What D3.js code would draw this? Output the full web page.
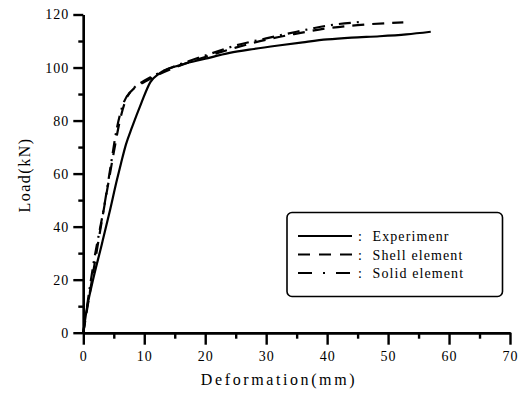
<html>
<head>
    <style>
        body { margin: 0; background: #ffffff; }
        svg { display: block; }
        text { font-family: "Liberation Serif", "DejaVu Serif", serif; fill: #000; }
        .eje path, .eje line { stroke: #000; stroke-width: 2.4px; }
        .eje text { font-size: 14px; letter-spacing: 1px; fill: #000; }
    </style>
    <script src="https://cdn.jsdelivr.net/npm/d3@7"></script>
</head>
<body>
<svg id="Grafico"></svg>
<script>
    // Datos: deformacion (mm) y carga (kN)
    let experimentoX = [0, 0.5, 1.5, 3, 4.4, 5.5, 6.2, 7, 8, 9.5, 11, 12.5, 16, 20, 24, 28, 32, 36, 40, 44, 48.6, 53, 57];
    let experimentoY = [0, 8, 19, 33, 46.4, 57.5, 64, 71, 77.5, 86.5, 94.5, 97.8, 101, 103.3, 105.5, 107, 108.3, 109.5, 110.6, 111.3, 111.8, 112.5, 113.5];

    let laminaX = [0, 2, 4, 5, 6, 7, 8.5, 10, 12, 15, 20, 25, 30, 35, 40, 45, 52.5];
    let laminaY = [0, 28, 55, 68, 80, 88, 92.5, 94.5, 97, 100, 104, 107.5, 110.5, 112.8, 114.8, 116, 117];

    let solidoX = [0, 1.6, 3.6, 4.5, 5.5, 6.5, 8, 10, 12, 15, 20, 25, 30, 35, 40, 46];
    let solidoY = [0, 25, 50, 63, 77, 86, 91.5, 95, 97.5, 100.5, 104.5, 108.3, 111, 113.5, 115.8, 117.3];

    let series = ["Experimenr", "Shell element", "Solid element"];
    let ticksX = [0, 10, 20, 30, 40, 50, 60, 70];
    let ticksY = [0, 20, 40, 60, 80, 100, 120];

    let trazos = ["none", "12,8", "12,6,2,6"];
    let trazosLeyenda = ["none", "12,9", "14,11,2,11"];

    function configuracion () {
        let ancho = 522, alto = 396;
        let margenes = { top: 14.5, bottom: 63.3, left: 83.3, right: 12 };
        let contenedor = d3.select("#Grafico").attr("width", ancho).attr("height", alto);
        return { ancho, alto, margenes, contenedor };
    }

    function escalas (conf) {
        let { ancho, alto, margenes } = conf;
        let escalaX = d3.scaleLinear().domain([0, 70]).range([margenes.left, ancho - margenes.right]);
        let escalaY = d3.scaleLinear().domain([0, 120]).range([alto - margenes.bottom, margenes.top]);
        return { escalaX, escalaY };
    }

    function dibujarEjes (conf, esc) {
        let { contenedor, alto, margenes } = conf;
        let { escalaX, escalaY } = esc;
        let y0 = alto - margenes.bottom;

        // marcas secundarias
        contenedor.append("g").attr("class", "eje")
            .attr("transform", `translate(0,${y0})`)
            .call(d3.axisBottom(escalaX).tickValues(d3.range(5, 70, 10)).tickSize(6).tickFormat("").tickSizeOuter(0));
        contenedor.append("g").attr("class", "eje")
            .attr("transform", `translate(${margenes.left},0)`)
            .call(d3.axisLeft(escalaY).tickValues(d3.range(10, 120, 20)).tickSize(5).tickFormat("").tickSizeOuter(0));

        let ejeX = contenedor.append("g").attr("class", "eje")
            .attr("transform", `translate(0,${y0})`)
            .call(d3.axisBottom(escalaX).tickValues(ticksX).tickSize(12).tickPadding(6).tickSizeOuter(0));
        ejeX.selectAll("text").attr("font-family", null).attr("font-size", null);

        let ejeY = contenedor.append("g").attr("class", "eje")
            .attr("transform", `translate(${margenes.left},0)`)
            .call(d3.axisLeft(escalaY).tickValues(ticksY).tickSize(10).tickPadding(4).tickSizeOuter(0));
        ejeY.selectAll("text").attr("font-family", null).attr("font-size", null);

        contenedor.append("text")
            .attr("x", 279).attr("y", 385)
            .attr("text-anchor", "middle")
            .style("font-size", "16px").style("letter-spacing", "2.6px")
            .text("Deformation(mm)");

        contenedor.append("text")
            .attr("transform", "translate(30,175) rotate(-90)")
            .attr("text-anchor", "middle")
            .style("font-size", "16px").style("letter-spacing", "1.5px")
            .text("Load(kN)");
    }

    function dibujarCurvas (conf, esc) {
        let { contenedor } = conf;
        let { escalaX, escalaY } = esc;
        let datos = [
            d3.zip(experimentoX, experimentoY),
            d3.zip(laminaX, laminaY),
            d3.zip(solidoX, solidoY)
        ];
        let linea = d3.line()
            .x(d => escalaX(d[0]))
            .y(d => escalaY(d[1]))
            .curve(d3.curveMonotoneX);

        contenedor.selectAll(".curva")
            .data(datos)
            .enter().append("path")
                .attr("class", "curva")
                .attr("d", linea)
                .attr("fill", "none")
                .attr("stroke", "#000")
                .attr("stroke-width", 2.2)
                .attr("stroke-dasharray", (d, i) => trazos[i]);
    }

    function dibujarLeyenda (conf) {
        let { contenedor } = conf;
        let leyenda = contenedor.append("g");
        leyenda.append("rect")
            .attr("x", 287).attr("y", 212.5)
            .attr("width", 215.5).attr("height", 84)
            .attr("rx", 5)
            .attr("fill", "#fff").attr("stroke", "#000").attr("stroke-width", 1.6);

        let filas = leyenda.selectAll(".fila")
            .data(series)
            .enter().append("g")
                .attr("class", "fila")
                .attr("transform", (d, i) => `translate(0,${236 + i * 18.5})`);

        filas.append("line")
            .attr("x1", 298).attr("x2", 352)
            .attr("stroke", "#000").attr("stroke-width", 2)
            .attr("stroke-dasharray", (d, i) => trazosLeyenda[i]);

        filas.append("text")
            .attr("x", 358).attr("y", 5)
            .style("font-size", "14px")
            .text(":");

        filas.append("text")
            .attr("x", 372.5).attr("y", 5)
            .style("font-size", "14px").style("letter-spacing", "1.1px")
            .text(d => d);
    }

    let conf = configuracion();
    let esc = escalas(conf);
    dibujarCurvas(conf, esc);
    dibujarEjes(conf, esc);
    dibujarLeyenda(conf);
</script>
</body>
</html>
